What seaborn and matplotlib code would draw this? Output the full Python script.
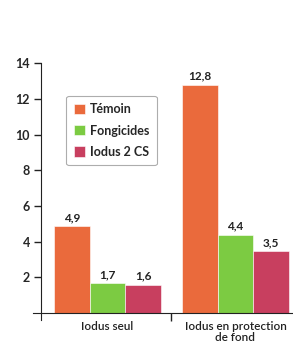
import matplotlib
matplotlib.use('Agg')
import matplotlib.pyplot as plt
import seaborn as sns
import pandas as pd

groups = ['Iodus seul', 'Iodus en protection\nde fond']
series = ['Témoin', 'Fongicides', 'Iodus 2 CS']
values_seul = [4.9, 1.7, 1.6]
values_fond = [12.8, 4.4, 3.5]
yticks = [2, 4, 6, 8, 10, 12, 14]

colors = ['#EA6A3C', '#7CCB42', '#C83F5F']

rows = []
for s, v in zip(series, values_seul):
    rows.append({'groupe': groups[0], 'serie': s, 'valeur': v})
for s, v in zip(series, values_fond):
    rows.append({'groupe': groups[1], 'serie': s, 'valeur': v})
data = pd.DataFrame(rows)

sns.set_style('white')
plt.rcParams['font.family'] = ['Lato', 'DejaVu Sans']

fig = plt.figure(figsize=(2.93, 3.53), dpi=100)
ax = fig.add_axes([0.14, 0.113, 0.86, 0.708])

sns.barplot(data=data, x='groupe', y='valeur', hue='serie', order=groups,
            hue_order=series, palette=colors, width=0.84, saturation=1,
            edgecolor='white', linewidth=0.4, ax=ax)

for container in ax.containers:
    labels = [f'{b.get_height():.1f}'.replace('.', ',') for b in container]
    ax.bar_label(container, labels=labels, padding=2, fontsize=8.5,
                 fontweight='bold', color='#222222')

ax.set_ylim(0, 14)
ax.set_xlim(-0.52, 1.45)
ax.set_yticks(yticks)
ax.set_yticklabels([str(t) for t in yticks], fontsize=9, fontweight='bold')
ax.tick_params(axis='y', direction='out', length=5, width=1, color='#222222',
               left=True, pad=3)
ax.set_xticks([0, 1])
ax.set_xticklabels(groups, fontsize=8.5, fontweight='semibold', color='#222222',
                   linespacing=0.95)
ax.tick_params(axis='x', length=0, pad=6)
ax.set_xticks([0.5], minor=True)
ax.tick_params(axis='x', which='minor', direction='out', length=6, width=1,
               color='#222222', bottom=True)

sns.despine(ax=ax)
ax.spines['left'].set_color('#222222')
ax.spines['bottom'].set_color('#222222')
ax.spines['left'].set_bounds(-0.4, 14)
ax.spines['bottom'].set_bounds(-0.58, 1.5)

ax.set_xlabel('')
ax.set_ylabel('')

leg = ax.legend(loc='upper left', bbox_to_anchor=(0.075, 0.895), frameon=True,
                fancybox=True, edgecolor='#999999',
                handlelength=0.9, handleheight=0.9, handletextpad=0.4,
                borderpad=0.6, labelspacing=0.75,
                prop={'weight': 'bold', 'size': 9})
leg.get_frame().set_linewidth(0.8)

fig.savefig('out.png', dpi=100)
